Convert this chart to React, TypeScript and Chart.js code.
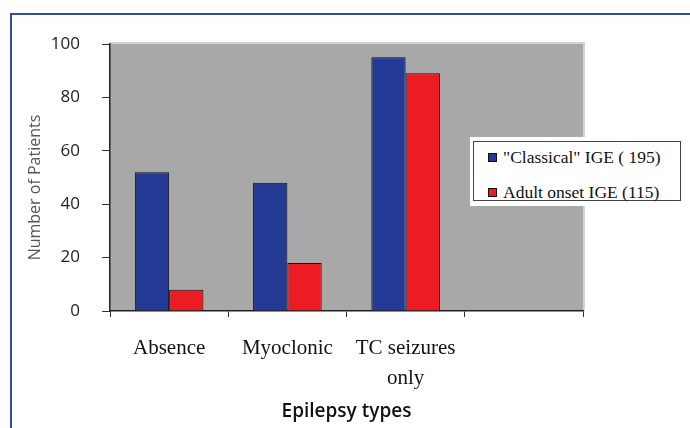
import React, { useEffect, useRef } from "react";
import { Chart, registerables } from "chart.js";

Chart.register(...registerables);

const categories: (string | string[])[] = ["Absence", "Myoclonic", ["TC seizures", "only"], ""];
const classicalValues: (number | null)[] = [52, 48, 95, null];
const adultValues: (number | null)[] = [8, 18, 89, null];
const seriesLabels = ['"Classical" IGE ( 195)', "Adult onset IGE (115)"];
const seriesColors = ["#233b95", "#ed1c24"];
const yTitle = "Number of Patients";
const xTitle = "Epilepsy types";

const plotBgPlugin = {
  id: "plotBg",
  beforeDraw(chart: any) {
    const { ctx, chartArea } = chart;
    const { left, top, right, bottom } = chartArea;
    ctx.save();
    ctx.fillStyle = "#a7a8a7";
    ctx.fillRect(left, top, right - left, bottom - top);
    ctx.strokeStyle = "#d2d3d2";
    ctx.lineWidth = 2;
    ctx.beginPath();
    ctx.moveTo(left, top - 1);
    ctx.lineTo(right + 1, top - 1);
    ctx.lineTo(right + 1, bottom);
    ctx.stroke();
    ctx.restore();
  },
  afterDraw(chart: any) {
    const { ctx, chartArea } = chart;
    ctx.save();
    ctx.translate(35, (chartArea.top + chartArea.bottom) / 2 + 10);
    ctx.rotate(-Math.PI / 2);
    ctx.font = "16px 'Open Sans'";
    ctx.fillStyle = "#555";
    ctx.textAlign = "center";
    ctx.textBaseline = "middle";
    ctx.fillText(yTitle, 0, 0);
    ctx.restore();
  },
};

export default function App() {
  const canvasRef = useRef<HTMLCanvasElement | null>(null);

  useEffect(() => {
    if (!canvasRef.current) return;
    const chart = new Chart(canvasRef.current, {
      type: "bar",
      data: {
        labels: categories,
        datasets: [
          {
            label: seriesLabels[0],
            data: classicalValues,
            backgroundColor: seriesColors[0],
            borderColor: "#111",
            borderWidth: 1,
          },
          {
            label: seriesLabels[1],
            data: adultValues,
            backgroundColor: seriesColors[1],
            borderColor: "#111",
            borderWidth: 1,
          },
        ],
      },
      options: {
        animation: false,
        responsive: false,
        maintainAspectRatio: false,
        layout: { padding: { top: 44, right: 107, left: 0, bottom: 0 } },
        datasets: { bar: { categoryPercentage: 0.58, barPercentage: 1 } },
        plugins: {
          legend: { display: false },
          tooltip: { enabled: false },
          title: { display: false },
        },
        scales: {
          x: {
            offset: true,
            afterFit: (s: any) => {
              s.height = 117;
            },
            grid: {
              display: true,
              drawOnChartArea: false,
              drawTicks: true,
              tickLength: 6,
              color: "#333",
              offset: true,
            },
            border: { display: true, color: "#222", width: 1.5 },
            ticks: {
              color: "#111",
              padding: 16,
              maxRotation: 0,
              autoSkip: false,
              font: { family: "'Liberation Serif'", size: 21, lineHeight: 1.43 },
            },
            title: {
              display: true,
              text: xTitle,
              color: "#111",
              font: { family: "'Open Sans'", size: 19, weight: "600" },
              padding: { top: 0, bottom: 5 },
            },
          },
          y: {
            min: 0,
            max: 100,
            afterFit: (s: any) => {
              s.width = 110;
            },
            grid: {
              display: true,
              drawOnChartArea: false,
              drawTicks: true,
              tickLength: 8,
              color: "#333",
            },
            border: { display: true, color: "#222", width: 1.5 },
            ticks: {
              stepSize: 20,
              color: "#222",
              padding: 22,
              font: { family: "'Open Sans'", size: 17 },
            },
          },
        },
      },
      plugins: [plotBgPlugin],
    });
    return () => chart.destroy();
  }, []);

  return (
    <div style={{ position: "fixed", left: 0, top: 0, width: 690, height: 428, background: "#fff" }}>
      <canvas ref={canvasRef} width={690} height={428} style={{ position: "absolute", left: 0, top: 0 }} />
      <div style={{ position: "absolute", left: 10, top: 13, width: 680, height: 2, background: "#2a4d9c" }} />
      <div style={{ position: "absolute", left: 10, top: 13, width: 2, height: 415, background: "#2a4d9c" }} />
      <div
        style={{
          position: "absolute",
          left: 470,
          top: 137,
          width: 215,
          height: 69,
          background: "#fff",
        }}
      >
        <div
          style={{
            position: "absolute",
            left: 3,
            top: 4,
            width: 206,
            height: 58,
            border: "1.5px solid #444",
            fontFamily: "'Liberation Serif'",
            fontSize: 17.5,
            color: "#111",
          }}
        >
          {seriesLabels.map((lab, i) => (
            <div
              key={i}
              style={{
                position: "absolute",
                left: 14,
                top: i === 0 ? 5 : 40,
                height: 20,
                lineHeight: "20px",
                whiteSpace: "nowrap",
                display: "flex",
                alignItems: "center",
              }}
            >
              <span
                style={{
                  display: "inline-block",
                  width: 7,
                  height: 7,
                  background: seriesColors[i],
                  border: "1px solid #111",
                  marginRight: 6,
                }}
              />
              <span>{lab}</span>
            </div>
          ))}
        </div>
      </div>
    </div>
  );
}
